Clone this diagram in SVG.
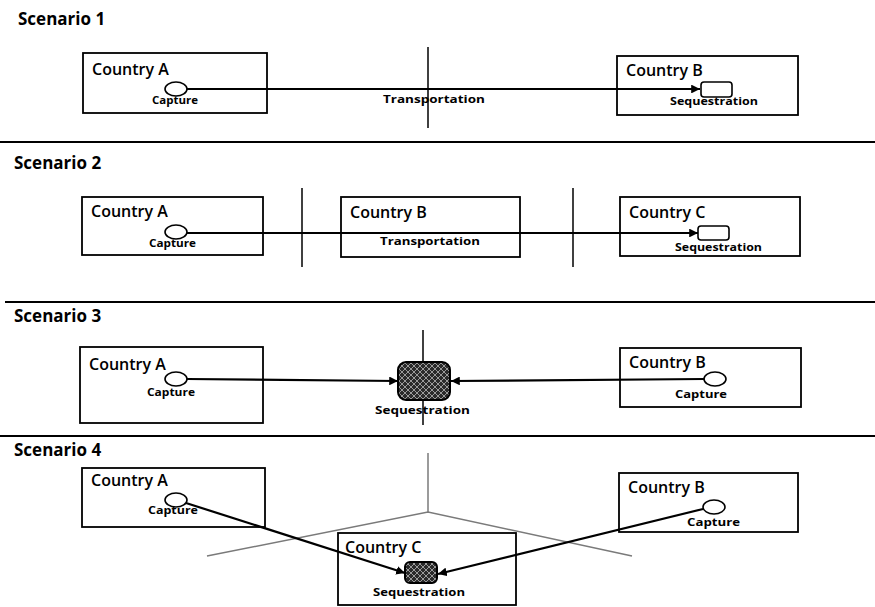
<svg xmlns="http://www.w3.org/2000/svg" width="875" height="607" viewBox="0 0 875 607">
<defs>
<marker id="arr" viewBox="0 0 10 10" refX="10" refY="5" markerWidth="4" markerHeight="4" orient="auto" markerUnits="strokeWidth">
<path d="M0,0 L10,5 L0,10 z" fill="#000"/>
</marker>
<pattern id="hatch" width="6" height="6" patternUnits="userSpaceOnUse">
<rect width="6" height="6" fill="#2a2a2a"/>
<path d="M0,6 L6,0 M0,0 L6,6" stroke="#9a9a9a" stroke-width="1"/>
</pattern>
<style>
.title{font-family:"Open Sans","Liberation Sans",sans-serif;font-weight:700;font-size:17px;fill:#000}
.cname{font-family:"Open Sans","Liberation Sans",sans-serif;font-weight:600;font-size:16px;fill:#000}
.lbl{font-family:"Open Sans","Liberation Sans",sans-serif;font-weight:700;font-size:11px;fill:#000}
.box{fill:#fff;stroke:#000;stroke-width:1.8}
.cap{fill:#fff;stroke:#000;stroke-width:1.6}
.seq{fill:#fff;stroke:#000;stroke-width:1.6}
.seqd{fill:url(#hatch);stroke:#000;stroke-width:2}
.sep{stroke:#000;stroke-width:2}
.div{stroke:#000;stroke-width:1.5}
.gray{stroke:#7a7a7a;stroke-width:1.5;fill:none}
.flowa{stroke:#000;stroke-width:2.2;fill:none;marker-end:url(#arr)}
</style>
</defs>
<rect width="875" height="607" fill="#fff"/>

<!-- separators, titles and borders -->
<g id="layout">
<line class="sep" x1="0" y1="142" x2="875" y2="142"/>
<line class="sep" x1="5" y1="302" x2="875" y2="302"/>
<line class="sep" x1="0" y1="436" x2="875" y2="436"/>
<text class="title" x="18" y="25">Scenario 1</text>
<text class="title" x="14" y="169">Scenario 2</text>
<text class="title" x="14" y="322">Scenario 3</text>
<text class="title" x="14" y="456">Scenario 4</text>
<line class="div" x1="428" y1="47" x2="428" y2="128"/>
<line class="div" x1="302" y1="188" x2="302" y2="267"/>
<line class="div" x1="573" y1="188" x2="573" y2="267"/>
<line class="div" x1="423" y1="330" x2="423" y2="425"/>
<polyline class="gray" points="428,453 428,512"/>
<polyline class="gray" points="207,556 428,512 632,556"/>
</g>

<!-- Scenario 1 -->
<g id="s1-countryA">
<rect class="box" x="83" y="53" width="184" height="60"/>
<text class="cname" x="92" y="75">Country A</text>
<ellipse class="cap" cx="176" cy="89" rx="11" ry="7"/>
<text class="lbl" x="152" y="104" textLength="46" lengthAdjust="spacingAndGlyphs">Capture</text>
</g>
<g id="s1-countryB">
<rect class="box" x="617" y="56" width="181" height="59"/>
<text class="cname" x="626" y="76">Country B</text>
<rect class="seq" x="701" y="82" width="31" height="15" rx="3"/>
<text class="lbl" x="670" y="105" textLength="88" lengthAdjust="spacingAndGlyphs">Sequestration</text>
</g>
<g id="s1-transport">
<text class="lbl" x="383" y="103" textLength="102" lengthAdjust="spacingAndGlyphs">Transportation</text>
</g>

<!-- Scenario 2 -->
<g id="s2-countryA">
<rect class="box" x="82" y="197" width="181" height="58"/>
<text class="cname" x="91" y="217">Country A</text>
<ellipse class="cap" cx="176" cy="232" rx="11" ry="7"/>
<text class="lbl" x="149" y="247" textLength="47" lengthAdjust="spacingAndGlyphs">Capture</text>
</g>
<g id="s2-countryB">
<rect class="box" x="341" y="197" width="179" height="60"/>
<text class="cname" x="350" y="218">Country B</text>
<text class="lbl" x="380" y="245" textLength="100" lengthAdjust="spacingAndGlyphs">Transportation</text>
</g>
<g id="s2-countryC">
<rect class="box" x="620" y="197" width="180" height="59"/>
<text class="cname" x="629" y="218">Country C</text>
<rect class="seq" x="698" y="226" width="31" height="14" rx="3"/>
<text class="lbl" x="675" y="251" textLength="87" lengthAdjust="spacingAndGlyphs">Sequestration</text>
</g>

<!-- Scenario 3 -->
<g id="s3-countryA">
<rect class="box" x="80" y="347" width="183" height="76"/>
<text class="cname" x="89" y="370">Country A</text>
<ellipse class="cap" cx="176" cy="379" rx="11" ry="7"/>
<text class="lbl" x="147" y="396" textLength="48" lengthAdjust="spacingAndGlyphs">Capture</text>
</g>
<g id="s3-seq">
<rect class="seqd" x="398" y="362" width="52" height="38" rx="8"/>
<text class="lbl" x="375" y="414" textLength="95" lengthAdjust="spacingAndGlyphs">Sequestration</text>
</g>
<g id="s3-countryB">
<rect class="box" x="620" y="348" width="181" height="59"/>
<text class="cname" x="629" y="368">Country B</text>
<ellipse class="cap" cx="715" cy="379" rx="11" ry="7"/>
<text class="lbl" x="675" y="398" textLength="52" lengthAdjust="spacingAndGlyphs">Capture</text>
</g>

<!-- Scenario 4 -->
<g id="s4-countryA">
<rect class="box" x="82" y="468" width="183" height="59"/>
<text class="cname" x="91" y="486">Country A</text>
<ellipse class="cap" cx="176" cy="500" rx="11" ry="7"/>
<text class="lbl" x="148" y="514" textLength="50" lengthAdjust="spacingAndGlyphs">Capture</text>
</g>
<g id="s4-countryB">
<rect class="box" x="619" y="473" width="179" height="59"/>
<text class="cname" x="628" y="493">Country B</text>
<ellipse class="cap" cx="714" cy="507" rx="11" ry="7"/>
<text class="lbl" x="687" y="526" textLength="53" lengthAdjust="spacingAndGlyphs">Capture</text>
</g>
<g id="s4-countryC">
<rect class="box" x="338" y="533" width="178" height="72"/>
<text class="cname" x="345" y="553">Country C</text>
<rect class="seqd" x="405" y="562" width="32" height="21" rx="5"/>
<text class="lbl" x="373" y="596" textLength="92" lengthAdjust="spacingAndGlyphs">Sequestration</text>
</g>

<!-- connectors -->
<g id="connectors">
<line class="flowa" x1="187" y1="89" x2="700" y2="89"/>
<line class="flowa" x1="187" y1="233" x2="698" y2="233"/>
<line class="flowa" x1="187" y1="379" x2="398" y2="381"/>
<line class="flowa" x1="704" y1="379" x2="451" y2="381"/>
<line class="flowa" x1="186" y1="503" x2="405" y2="573"/>
<line class="flowa" x1="703" y1="509" x2="438" y2="574"/>
</g>
</svg>
